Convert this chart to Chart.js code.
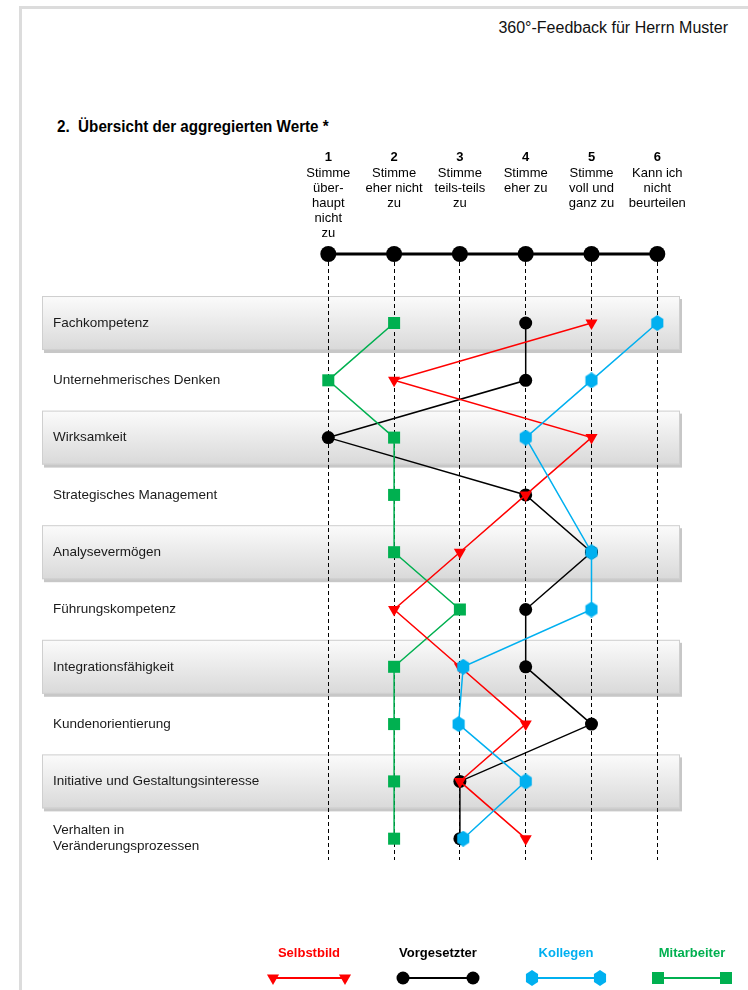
<!DOCTYPE html>
<html lang="de">
<head>
<meta charset="utf-8">
<script src="https://cdn.jsdelivr.net/npm/chart.js@4/dist/chart.umd.min.js"></script>
<style>
  html, body { margin:0; padding:0; background:#fff; }
  body { width:748px; height:990px; position:relative; overflow:hidden; font-family:"Liberation Sans", Arial, sans-serif; }
  #page { position:absolute; left:19px; top:6px; right:-10px; bottom:-10px; border-left:3px solid #dcdcdc; border-top:3px solid #dcdcdc; }
  #doctitle { position:absolute; right:20px; top:19px; font-size:16px; color:#111; white-space:nowrap; }
  #heading { position:absolute; left:57px; top:118px; font-size:16px; font-weight:bold; color:#000; white-space:nowrap; transform:scaleX(0.95); transform-origin:left center; }
  canvas { position:absolute; left:0; top:0; }
</style>
</head>
<body>
<div id="page"></div>
<div id="doctitle">360°-Feedback für Herrn Muster</div>
<div id="heading">2.&nbsp; Übersicht der aggregierten Werte *</div>
<canvas id="c" width="748" height="990"></canvas>
<script>
// ---- Data ----
const categories = [
  "Fachkompetenz",
  "Unternehmerisches Denken",
  "Wirksamkeit",
  "Strategisches Management",
  "Analysevermögen",
  "Führungskompetenz",
  "Integrationsfähigkeit",
  "Kundenorientierung",
  "Initiative und Gestaltungsinteresse",
  ["Verhalten in", "Veränderungsprozessen"]
];
const scaleValues = [1, 2, 3, 4, 5, 6];
const scaleHeaders = [
  ["Stimme", "über-", "haupt", "nicht", "zu"],
  ["Stimme", "eher nicht", "zu"],
  ["Stimme", "teils-teils", "zu"],
  ["Stimme", "eher zu"],
  ["Stimme", "voll und", "ganz zu"],
  ["Kann ich", "nicht", "beurteilen"]
];
const seriesNames = ["Selbstbild", "Vorgesetzter", "Kollegen", "Mitarbeiter"];
const selbstbild   = [5, 2, 5, 4, 3, 2, 3, 4, 3, 4];
const vorgesetzter = [4, 4, 1, 4, 5, 4, 4, 5, 3, 3];
const kollegen     = [6, 5, 4, null, 5, 5, 3.05, 2.98, 4, 3.05];
const mitarbeiter  = [2, 1, 2, 2, 2, 3, 2, 2, 2, 2];

// ---- Styles ----
const FONT = '"Liberation Sans", Arial, sans-serif';
const RED = '#ff0000', BLACK = '#000000', BLUE = '#00b0f0', GREEN = '#00b050';

function makeHex(color) {
  const c = document.createElement('canvas');
  c.width = 14; c.height = 16;
  const g = c.getContext('2d');
  g.fillStyle = color;
  g.beginPath();
  for (let k = 0; k < 6; k++) {
    const a = (-90 + 60 * k) * Math.PI / 180;
    const x = 7 + 7 * Math.cos(a), y = 8 + 8 * Math.sin(a);
    if (k === 0) g.moveTo(x, y); else g.lineTo(x, y);
  }
  g.closePath();
  g.fill();
  return c;
}
const hexImg = makeHex(BLUE);

function toPoints(arr) {
  return arr.map((v, i) => ({ x: v, y: i })).filter(p => p.x !== null);
}

const markerStyles = [
  { pointStyle: 'triangle', rotation: 180, radius: 7, color: RED },
  { pointStyle: 'circle', rotation: 0, radius: 6.5, color: BLACK },
  { pointStyle: hexImg, rotation: 0, radius: 7, color: BLUE },
  { pointStyle: 'rect', rotation: 0, radius: 8.5, color: GREEN }
];

const seriesData = [selbstbild, vorgesetzter, kollegen, mitarbeiter];
const drawOrder = [2, 4, 1, 3];

const datasets = seriesData.map((arr, i) => ({
  label: seriesNames[i],
  data: toPoints(arr),
  borderColor: markerStyles[i].color,
  backgroundColor: markerStyles[i].color,
  pointBackgroundColor: markerStyles[i].color,
  pointBorderColor: markerStyles[i].color,
  pointBorderWidth: 0,
  borderWidth: 1.5,
  pointStyle: markerStyles[i].pointStyle,
  pointRotation: markerStyles[i].rotation,
  pointRadius: markerStyles[i].radius,
  pointHoverRadius: markerStyles[i].radius,
  tension: 0,
  fill: false,
  clip: false,
  order: drawOrder[i]
}));

const decorPlugin = {
  id: 'decor',
  beforeDraw(chart) {
    const ctx = chart.ctx;
    const area = chart.chartArea;
    const ys = chart.scales.y;
    // row bands
    ctx.save();
    categories.forEach((c, i) => {
      if (i % 2 !== 0) return;
      const cy = ys.getPixelForValue(i);
      const top = cy - 27, h = 54;
      const left = area.left, w = area.right - area.left;
      ctx.fillStyle = 'rgba(0,0,0,0.22)';
      ctx.fillRect(left + 2, top + 3, w, h);
      const grd = ctx.createLinearGradient(0, top, 0, top + h);
      grd.addColorStop(0, '#fbfbfb');
      grd.addColorStop(1, '#d9d9d9');
      ctx.fillStyle = grd;
      ctx.fillRect(left, top, w, h);
      ctx.strokeStyle = '#cfcfcf';
      ctx.lineWidth = 1;
      ctx.strokeRect(left + 0.5, top + 0.5, w - 1, h - 1);
    });
    // row labels
    ctx.fillStyle = '#1a1a1a';
    ctx.font = '13.5px ' + FONT;
    ctx.textAlign = 'left';
    ctx.textBaseline = 'middle';
    categories.forEach((c, i) => {
      const cy = ys.getPixelForValue(i);
      const lines = Array.isArray(c) ? c : [c];
      const lh = 16;
      lines.forEach((ln, k) => {
        ctx.fillText(ln, area.left + 11, cy + (k - (lines.length - 1) / 2) * lh);
      });
    });
    ctx.restore();
  },
  afterDraw(chart) {
    const ctx = chart.ctx;
    const area = chart.chartArea;
    const xs = chart.scales.x;
    const helpers = Chart.helpers;
    ctx.save();
    // header texts
    ctx.textAlign = 'center';
    ctx.textBaseline = 'middle';
    ctx.fillStyle = '#000';
    scaleValues.forEach((v, i) => {
      const px = xs.getPixelForValue(v);
      ctx.font = 'bold 13px ' + FONT;
      ctx.fillText(String(v), px, 157);
      ctx.font = '13px ' + FONT;
      scaleHeaders[i].forEach((ln, k) => ctx.fillText(ln, px, 173 + k * 15));
    });
    // top scale line
    const sy = area.top - 8;
    ctx.strokeStyle = '#000';
    ctx.lineWidth = 3;
    ctx.beginPath();
    ctx.moveTo(xs.getPixelForValue(scaleValues[0]), sy);
    ctx.lineTo(xs.getPixelForValue(scaleValues[scaleValues.length - 1]), sy);
    ctx.stroke();
    ctx.fillStyle = '#000';
    scaleValues.forEach(v => {
      ctx.beginPath();
      ctx.arc(xs.getPixelForValue(v), sy, 8, 0, Math.PI * 2);
      ctx.fill();
    });
    // legend
    const legCenters = [309, 438, 566, 692];
    const legHalf = [36, 35, 34, 34];
    chart.data.datasets.forEach((ds, i) => {
      const cx = legCenters[i];
      ctx.font = 'bold 13px ' + FONT;
      ctx.fillStyle = markerStyles[i].color;
      ctx.textAlign = 'center';
      ctx.fillText(ds.label, cx, 953);
      const x1 = cx - legHalf[i], x2 = cx + legHalf[i], ly = 978;
      ctx.strokeStyle = markerStyles[i].color;
      ctx.lineWidth = 2;
      ctx.beginPath(); ctx.moveTo(x1, ly); ctx.lineTo(x2, ly); ctx.stroke();
      const opts = { pointStyle: markerStyles[i].pointStyle, radius: markerStyles[i].radius, rotation: markerStyles[i].rotation, borderWidth: 0 };
      ctx.fillStyle = markerStyles[i].color;
      [x1, x2].forEach(x => helpers.drawPoint(ctx, opts, x, ly));
    });
    ctx.restore();
  }
};

new Chart(document.getElementById('c'), {
  type: 'line',
  data: { datasets },
  options: {
    responsive: false,
    animation: false,
    events: [],
    layout: { padding: { left: 42, right: 68, top: 262, bottom: 130 } },
    plugins: { legend: { display: false }, tooltip: { enabled: false } },
    scales: {
      x: {
        type: 'linear',
        min: -3.351, max: 6.345,
        afterBuildTicks: s => { s.ticks = scaleValues.map(v => ({ value: v })); },
        ticks: { display: false },
        grid: { color: '#000', lineWidth: 1, drawTicks: false },
        border: { display: false, dash: [4, 3] }
      },
      y: {
        type: 'linear',
        reverse: true,
        min: -1.065, max: 9.372,
        display: false
      }
    }
  },
  plugins: [decorPlugin]
});
</script>
</body>
</html>
